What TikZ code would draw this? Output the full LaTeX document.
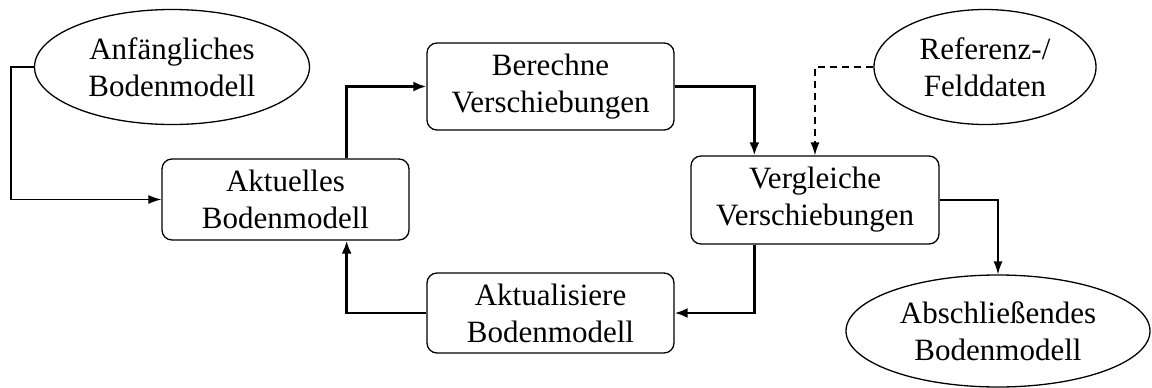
\documentclass[tikz,border=0pt]{standalone}
\usepackage{fontspec}
\setmainfont{Liberation Serif}
\usetikzlibrary{shapes.geometric,arrows.meta,calc}
\begin{document}
\begin{tikzpicture}[x=1pt,y=-1pt,
  every node/.style={font=\fontsize{31}{37}\selectfont, align=center, inner sep=0pt},
  stepbox/.style={draw, line width=1.3pt, rounded corners=10pt, minimum width=247pt, minimum height=84pt},
  oval/.style={draw, ellipse, line width=1.3pt},
  thinarrow/.style={line width=1.3pt, -{Latex[length=13pt,width=9pt]}},
  thickarrow/.style={line width=2.5pt, -{Latex[length=13pt,width=10pt]}},
  dasharrow/.style={line width=1.3pt, dash pattern=on 7pt off 5pt, -{Latex[length=13pt,width=9pt]}}]
\useasboundingbox (0,0) rectangle (1152,388);
\node[oval, minimum width=275pt, minimum height=115pt] (anf) at (172,67) {Anfängliches\\Bodenmodell};
\node[oval, minimum width=222pt, minimum height=115pt] (ref) at (985,67) {Referenz-/\\Felddaten};
\node[oval, minimum width=304pt, minimum height=112pt] (abs) at (998,331) {Abschließendes\\Bodenmodell};
\node[stepbox, minimum height=81pt] (akt) at (285.5,199.5) {Aktuelles\\Bodenmodell};
\node[stepbox, minimum height=87pt] (ber) at (550.5,86.5) {Berechne\\Verschiebungen};
\node[stepbox, minimum height=80pt] (aktu) at (550.5,313) {Aktualisiere\\Bodenmodell};
\node[stepbox, minimum width=248pt, minimum height=88pt] (ver) at (815,200) {Vergleiche\\Verschiebungen};
\coordinate (aktout) at ($(akt.north east)+(-63,0)$);
\coordinate (aktin) at ($(akt.south east)+(-63,0)$);
\coordinate (verin) at ($(ver.north west)+(64,0)$);
\coordinate (verout) at ($(ver.south west)+(64,0)$);
\draw[thinarrow] (anf.west) -- ++(-23,0) |- (akt.west);
\draw[thickarrow] (aktout) |- (ber.west);
\draw[thickarrow] (ber.east) -| (verin);
\draw[dasharrow] (ref.west) -| (ver.north);
\draw[thickarrow] (verout) |- (aktu.east);
\draw[thickarrow] (aktu.west) -| (aktin);
\draw[thinarrow] (ver.east) -| (abs.north);
\end{tikzpicture}
\end{document}
